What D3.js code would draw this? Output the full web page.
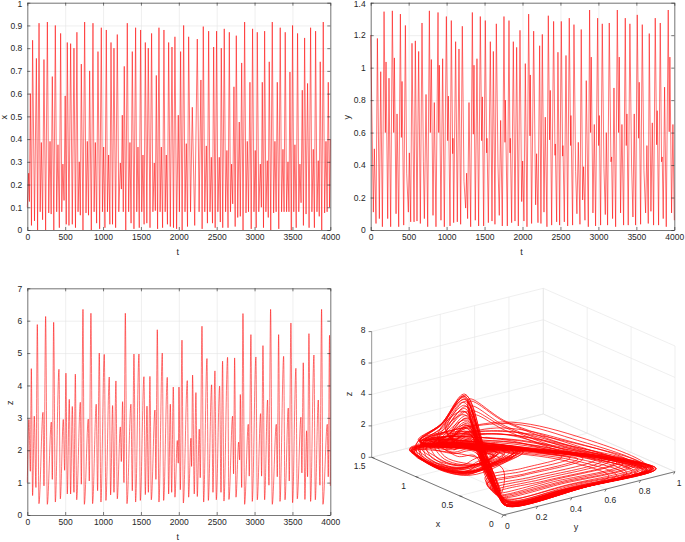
<!DOCTYPE html>
<html>
  <head>
    <meta charset="utf-8">
    <script src="https://d3js.org/d3.v7.min.js"></script>
    <title>Time series and phase portrait</title>
    <style>
      body { margin: 0; background: #fff; }
      text { font-family: "Liberation Sans", sans-serif; fill: #262626; }
      .grid line { stroke: #e4e4e4; stroke-width: 0.6; }
      .grid path { display: none; }
      .axis path, .axis line { stroke: #262626; stroke-width: 0.6; }
      .trace { fill: none; stroke: #ff0000; stroke-linejoin: round; }
    </style>
  </head>
  <body>
    <div id="plot"></div>
    <script>

    // ---- x(t), alternating peaks and troughs
    const xTime = [0,18,28,40,55,70,95,120,136,155,170,185,202,220,242,265,283,300,315,330,350,370,388,405,423,440,455,470,485,500,514,528,550,572,594,616,636,655,670,686,700,713,735,757,775,792,808,823,845,867,882,898,915,933,955,977,992,1008,1025,1043,1058,1074,1090,1105,1125,1144,1166,1188,1208,1228,1242,1254,1267,1280,1300,1320,1338,1355,1370,1386,1408,1430,1445,1461,1478,1496,1511,1527,1542,1558,1578,1597,1620,1641,1658,1676,1690,1703,1720,1738,1753,1769,1786,1804,1820,1835,1850,1866,1888,1910,1930,1949,1971,1993,2008,2024,2044,2064,2082,2099,2115,2130,2155,2178,2210,2244,2268,2292,2308,2323,2343,2363,2378,2394,2412,2429,2445,2460,2480,2499,2516,2534,2548,2561,2580,2600,2618,2635,2650,2667,2682,2697,2712,2728,2744,2759,2778,2798,2812,2830,2848,2869,2887,2904,2920,2939,2956,2974,2992,3009,3022,3036,3056,3076,3090,3102,3118,3133,3150,3168,3181,3194,3214,3234,3252,3269,3285,3300,3320,3339,3357,3375,3390,3405,3423,3441,3454,3467,3485,3502,3518,3533,3550,3568,3584,3599,3614,3630,3645,3661,3680,3700,3720,3740,3757,3775,3790,3806,3824,3841,3854,3867,3887,3907,3925,3943,3958,3973,3990,4000];
    const xValue = [.1,.25,.125,.6,.02,.835,.04,.755,0,.91,.08,.385,.045,.75,0,.915,.075,.39,.07,.675,0,.9,.08,.375,.01,.865,.08,.29,.13,.59,.025,.825,.02,.82,.025,.8,.01,.87,.08,.3,.065,.73,0,.915,.075,.39,.065,.7,0,.91,.08,.385,.03,.785,.005,.89,.08,.365,.01,.88,.08,.33,.025,.825,.025,.8,.01,.86,.08,.295,.18,.505,.08,.72,0,.91,.08,.385,.03,.785,.005,.89,.08,.365,.01,.88,.08,.33,.025,.825,.03,.8,.01,.865,.08,.295,.085,.68,.005,.89,.08,.365,.01,.88,.08,.33,.025,.825,.015,.805,.01,.85,.005,.505,.08,.785,0,.9,.08,.38,.015,.85,.08,.54,.02,.84,.08,.66,.005,.895,.08,.37,.03,.875,.08,.32,.03,.805,.01,.875,.08,.32,.035,.8,.01,.885,.08,.35,.01,.87,.08,.29,.115,.63,.015,.855,.055,.475,.06,.735,0,.915,.075,.39,.08,.65,.005,.885,.08,.35,.01,.87,.08,.29,.1,.65,.01,.875,.08,.305,.055,.74,0,.915,.075,.39,.08,.65,.005,.89,.08,.355,.08,.87,.08,.3,.08,.695,0,.9,.08,.375,.01,.865,.08,.29,.12,.615,.02,.845,.07,.645,.01,.89,.08,.355,.01,.875,.08,.305,.06,.74,0,.915,.075,.39,.08,.65,.1,.4];

    // ---- y(t), top right panel
    const yTime = [0,35,48,70,88,114,132,154,176,193,202,224,241,263,285,303,312,334,347,369,391,404,413,435,457,474,496,509,527,544,571,588,610,632,654,676,694,707,729,751,773,786,799,821,838,860,887,896,904,926,948,970,997,1014,1023,1045,1062,1080,1084,1093,1119,1141,1163,1185,1207,1229,1251,1264,1277,1295,1317,1339,1352,1361,1378,1400,1422,1444,1462,1471,1488,1510,1528,1532,1550,1576,1598,1616,1637,1655,1677,1694,1712,1734,1756,1769,1774,1800,1822,1835,1839,1857,1879,1901,1923,1945,1967,1989,2002,2019,2037,2059,2081,2098,2103,2120,2147,2173,2186,2204,2226,2243,2261,2283,2300,2322,2340,2357,2366,2384,2410,2428,2432,2450,2467,2489,2511,2529,2533,2551,2573,2595,2616,2634,2638,2660,2678,2700,2717,2735,2757,2774,2792,2805,2823,2840,2867,2884,2897,2906,2928,2946,2963,2990,3003,3012,3029,3051,3073,3091,3104,3121,3143,3165,3174,3187,3205,3227,3249,3266,3275,3292,3310,3332,3354,3367,3376,3393,3415,3437,3455,3472,3490,3512,3530,3538,3556,3578,3600,3622,3639,3657,3670,3692,3710,3727,3749,3767,3775,3793,3815,3832,3841,3854,3872,3894,3920,3933,3942,3964,3982,4000];
    const yValue = [1.2,.11,.5,.04,1.18,.07,.975,.02,1.345,.6,1.035,.07,.935,.02,1.35,.6,1.06,.1,.715,.02,1.33,.57,.915,.03,1.26,.35,.11,.475,.05,1.15,.05,1.165,.055,1.1,.04,1.275,.42,.07,.835,.02,1.35,.6,1.05,.09,.785,.02,1.34,.6,1.015,.06,1.055,.02,1.315,.55,.825,.025,1.29,.47,.565,.045,1.16,.05,1.115,.035,1.255,.3,.135,.35,.07,.785,.02,1.34,.59,1.015,.06,1.055,.025,1.315,.55,.82,.025,1.29,.475,.565,.045,1.16,.055,1.1,.035,1.27,.4,.09,.675,.025,1.315,.54,.8,.025,1.29,.475,.565,.045,1.16,.055,1.125,.025,1.23,.175,.425,.055,1.025,.02,1.33,.58,.955,.04,1.225,.155,.47,.045,1.135,.04,1.205,.11,.695,.02,1.32,.555,.86,.03,1.285,.46,.53,.05,1.095,.03,1.285,.455,.52,.05,1.075,.025,1.305,.52,.705,.03,1.265,.36,.1,.54,.035,1.235,.185,.39,.06,.92,.02,1.355,.6,1.065,.105,.65,.025,1.305,.52,.705,.03,1.27,.38,.095,.6,.03,1.275,.42,.45,.07,.875,.02,1.355,.6,1.065,.105,.65,.03,1.305,.52,.715,.03,1.27,.4,.08,.715,.03,1.325,.565,.91,.035,1.265,.365,.105,.52,.04,1.21,.115,.66,.03,1.305,.525,.735,.03,1.275,.42,.45,.07,.88,.02,1.355,.605,1.065,.105,.65,.06];

    // ---- z(t), bottom left panel
    const zTime = [0,22,40,53,70,92,114,132,154,207,220,242,264,317,330,348,370,418,436,475,493,510,528,554,572,594,616,634,652,700,713,735,753,805,818,840,862,910,928,950,972,1016,1038,1082,1100,1126,1144,1170,1188,1228,1241,1258,1276,1294,1316,1368,1386,1408,1430,1474,1492,1540,1558,1580,1598,1619,1637,1685,1698,1716,1738,1782,1800,1848,1866,1888,1906,1927,1949,1980,1993,2002,2020,2042,2060,2112,2130,2160,2169,2182,2204,2226,2244,2270,2283,2306,2328,2372,2390,2433,2451,2477,2495,2539,2557,2578,2596,2644,2662,2710,2723,2737,2755,2790,2803,2812,2830,2847,2869,2917,2930,2952,2970,3018,3036,3080,3093,3111,3133,3172,3190,3212,3234,3287,3300,3318,3336,3384,3402,3445,3458,3480,3502,3546,3564,3612,3625,3643,3665,3687,3700,3718,3740,3784,3802,3841,3863,3885,3903,3960,3973,3990,4000];
    const zValue = [1,2.95,1.35,4.52,.6,3.05,.85,5.88,.35,3.17,.9,6.13,.33,2.87,1.1,5.95,.4,4.5,.5,2.95,1.38,4.38,.65,3.57,.65,3.35,.7,4.35,.47,3.48,.95,6.35,.33,2.96,1.05,6.23,.35,3.42,.75,5,.4,4.96,.45,4.26,.62,3.38,.7,4.14,.5,2.72,1.65,3.5,1,6.23,.35,3.42,.75,4.97,.4,4.97,.45,4.27,.63,3.36,.7,4.28,.47,3.24,1.1,5.72,.4,5,.45,4.25,.65,3.42,.7,3.95,.55,2.3,1.6,3.95,.78,5.4,.37,4.15,.55,2.37,1.5,4.32,.65,3.78,.57,2.65,1.15,5.83,.4,4.83,.45,4.02,.7,4.45,.47,3.98,.7,4.75,.43,4.87,.48,3.05,1.27,4.85,.55,2.25,1.7,3.72,.85,6.22,.33,2.8,1.2,5.57,.42,4.88,.47,3.13,1.2,5.23,.47,3.55,.92,6.35,.33,2.8,1.18,5.57,.42,4.9,.47,3.3,1.05,5.93,.38,4.53,.5,3.02,1.3,4.7,.48,2.6,1.18,5.6,.42,4.94,.47,3.55,.92,6.35,.33,2.8,1.18,5.55,.9];

    // ---- phase portrait waypoints, one row per turn of the attractor
    const phaseX = [
      .03,.03,.05,.35,.85,1.3,.85,.5,.25,.08,
      .28,.28,.3,.6,.92,1.28,1.15,.92,.8,.85,1.1,.8,.5,.26,.1,
      .04,.05,.06,.37,.87,1.28,1.34,1.2,.95,.76,.78,.84,.95,1.1,1.27,.9,.52,.28,.1,
      .06,.06,.06,.42,.92,1.27,.84,.52,.26,.08,
      .02,.04,.06,.1,.3,.7,.55,.3,.09,
      .14,.14,.15,.52,.9,1.3,1.22,1,.84,.88,1.14,.82,.52,.27,.09,
      .04,.06,.07,.38,.82,1.25,.8,.48,.24,.07,
      .2,.2,.21,.56,.9,1.3,.86,.52,.27,.09,
      .03,.05,.06,.36,.86,1.3,1.36,1.22,.93,.74,.76,.86,.98,1.12,1.25,.86,.5,.26,.09,
      .42,.42,.44,.68,.94,1.24,1.08,.88,.78,.82,1.06,.78,.48,.25,.1,
      .02,.03,.04,.34,.88,1.32,.87,.52,.26,.07,
      .38,.38,.4,.66,.93,1.25,.8,.48,.25,.09,
      .03,.04,.05,.11,.32,.68,.53,.28,.1,
      .22,.22,.23,.58,.9,1.3,1.26,1.02,.82,.86,1.12,.84,.52,.27,.09,
      .05,.07,.08,.4,.8,1.2,.78,.46,.22,.06,
      .13,.13,.14,.5,.88,1.22,.76,.44,.22,.08,
      .04,.05,.07,.38,.85,1.26,1.33,1.18,.9,.72,.8,.88,.96,1.08,1.22,.82,.47,.24,.09,
      .5,.5,.52,.72,.95,1.22,1.04,.86,.76,.8,1.02,.76,.46,.24,.1,
      .03,.04,.05,.36,.84,1.28,.83,.49,.24,.08,
      .48,.48,.5,.7,.95,1.2,.72,.42,.22,.08,
      .02,.03,.05,.12,.28,.66,.5,.27,.08,
      .08,.08,.08,.46,.88,1.32,1.3,1.08,.84,.84,1.1,.82,.5,.26,.09,
      .05,.06,.08,.42,.9,1.22,1.3,1.14,.88,.7,.72,.82,.92,1.05,1.2,.8,.44,.22,.07,
      .03,.03,.04,.36,.88,1.3,.86,.51,.26,.08,
      .34,.34,.36,.64,.92,1.26,1.12,.94,.8,.83,1.08,.8,.5,.26,.1,
      .03,.03,.04,.34,.86,1.31,.86,.51,.25,.08,
      .25,.25,.26,.6,.91,1.28,.82,.5,.26,.09,
      .04,.05,.06,.37,.83,1.24,.77,.45,.22,.07,
      .18,.18,.19,.55,.9,1.29,1.2,.98,.82,.87,1.13,.78,.48,.25,.09,
      .03,.04,.06,.36,.88,1.3,1.35,1.2,.97,.78,.75,.83,.94,1.1,1.26,.88,.5,.27,.09,
      .3,.3,.31,.62,.92,1.28,.85,.52,.27,.09,
      .02,.03,.05,.1,.31,.72,.56,.29,.09,
      .6,.6,.62,.78,.96,1.2,1.02,.84,.72,.74,1,.78,.5,.26,.1,
      .04,.05,.07,.39,.8,1.18,.74,.43,.2,.07,
      .55,.55,.57,.74,.96,1.22,.78,.46,.24,.09,
      .03,.04,.05,.35,.87,1.33,1.38,1.24,.96,.79,.77,.85,.97,1.13,1.28,.92,.53,.29,.1,
      .11,.11,.12,.5,.89,1.31,1.25,1.04,.86,.84,1.12,.83,.52,.27,.09,
      .03,.03,.05,.33,.85,1.29,.84,.5,.25,.08,
      .09,.09,.1,.48,.89,1.26,.8,.49,.25,.08,
      .04,.06,.08,.4,.78,1.14,.72,.41,.19,.06,
      .03,.05,.06,.37,.84,1.27,1.32,1.16,.91,.73,.79,.87,.94,1.07,1.23,.84,.48,.25,.08,
      .02,.03,.04,.35,.87,1.3,.85,.51,.26,.08,
      .03,.05,.06,.12,.29,.69,.52,.28,.09,
      .05,.07,.09,.43,.76,1.1,.7,.4,.18,.07,
      .04,.05,.07,.38,.86,1.29,1.35,1.19,.94,.75,.74,.8,.91,1.06,1.24,.87,.49,.26,.08,
      .03,.04,.05,.34,.83,1.26,.82,.48,.23,.07,
      // nested turns of the left lobe
      .6,1.35,1.18,.94,.76,.78,.86,1,1.22,
      1.34,1.16,.92,.75,.79,.87,1.02,1.24,
      1.36,1.2,.95,.77,.8,.85,.99,1.21,
      1.33,1.17,.93,.78,.82,.88,1.03,1.25,
      1.35,1.19,.96,.79,.8,.84,.98,1.2,
      1.32,1.15,.91,.76,.84,.9,1.04,1.26,
      1.3,1.12,.9,.8,.85,.9,1.06,1.24,
      1.37,1.21,.97,.78,.78,.83,.97,1.19,
      1.28,1.1,.92,.84,.88,.94,1.08,1.22,1.3
    ];
    const phaseY = [
      .03,.5,.9,.8,.45,.18,.08,.035,.02,.02,
      .12,.42,.84,.64,.44,.2,.14,.14,.2,.38,.32,.1,.04,.02,.02,
      .04,.45,.87,.78,.43,.17,.155,.13,.114,.175,.34,.53,.5,.39,.28,.1,.04,.02,.02,
      .07,.46,.9,.68,.44,.19,.08,.04,.02,.02,
      .03,.5,.9,.85,.56,.375,.08,.02,.02,
      .1,.44,.88,.66,.46,.19,.14,.12,.19,.42,.33,.09,.04,.02,.02,
      .05,.42,.82,.74,.4,.16,.08,.035,.02,.02,
      .1,.43,.86,.65,.45,.18,.08,.035,.02,.02,
      .035,.48,.89,.79,.44,.175,.15,.125,.11,.17,.33,.5,.48,.36,.26,.09,.04,.02,.02,
      .14,.38,.76,.6,.46,.21,.16,.16,.23,.36,.3,.1,.05,.02,.02,
      .03,.52,.91,.81,.45,.18,.08,.035,.02,.02,
      .13,.39,.78,.61,.46,.2,.09,.05,.02,.02,
      .03,.48,.88,.83,.54,.36,.08,.02,.02,
      .11,.43,.86,.65,.45,.19,.13,.12,.18,.4,.34,.09,.04,.02,.02,
      .06,.4,.79,.71,.38,.15,.07,.035,.02,.02,
      .09,.44,.88,.66,.46,.2,.09,.05,.02,.02,
      .04,.44,.85,.76,.42,.165,.15,.12,.105,.16,.36,.55,.52,.4,.29,.09,.04,.02,.02,
      .16,.38,.7,.58,.47,.22,.17,.17,.25,.34,.3,.1,.05,.02,.02,
      .04,.46,.86,.77,.43,.17,.08,.035,.02,.02,
      .15,.36,.72,.59,.47,.22,.1,.05,.02,.02,
      .03,.47,.86,.8,.52,.35,.08,.02,.02,
      .08,.46,.9,.68,.44,.18,.15,.12,.16,.44,.36,.09,.04,.02,.02,
      .05,.38,.76,.68,.36,.16,.145,.12,.1,.165,.32,.49,.46,.35,.25,.09,.04,.02,.02,
      .05,.47,.91,.7,.45,.18,.08,.035,.02,.02,
      .13,.4,.8,.62,.45,.2,.15,.15,.21,.37,.31,.1,.04,.02,.02,
      .03,.51,.9,.8,.44,.18,.08,.035,.02,.02,
      .11,.42,.83,.63,.45,.19,.08,.04,.02,.02,
      .05,.41,.8,.72,.39,.15,.07,.03,.02,.02,
      .1,.43,.87,.65,.45,.19,.14,.13,.19,.41,.33,.09,.05,.02,.02,
      .04,.47,.88,.78,.43,.175,.155,.13,.115,.18,.35,.54,.51,.38,.27,.1,.04,.02,.02,
      .12,.41,.82,.62,.45,.19,.08,.035,.02,.02,
      .03,.49,.89,.84,.55,.38,.09,.02,.02,
      .2,.42,.66,.56,.47,.23,.18,.2,.3,.36,.31,.1,.04,.02,.02,
      .05,.37,.74,.66,.35,.14,.07,.03,.02,.02,
      .18,.4,.68,.57,.47,.22,.09,.05,.02,.02,
      .035,.49,.9,.8,.45,.18,.16,.135,.12,.18,.34,.52,.5,.39,.28,.1,.04,.02,.02,
      .09,.45,.89,.67,.45,.18,.14,.12,.17,.43,.35,.09,.04,.02,.02,
      .03,.5,.89,.79,.44,.18,.08,.035,.02,.02,
      .08,.45,.89,.67,.45,.19,.08,.04,.02,.02,
      .06,.35,.7,.62,.33,.14,.07,.03,.02,.02,
      .04,.43,.84,.75,.41,.165,.15,.12,.105,.165,.35,.52,.49,.37,.26,.09,.04,.02,.02,
      .03,.52,.91,.81,.45,.18,.08,.035,.02,.02,
      .04,.46,.87,.82,.53,.36,.08,.02,.02,
      .06,.33,.66,.58,.31,.13,.07,.03,.02,.02,
      .04,.46,.87,.77,.43,.17,.155,.125,.11,.17,.31,.47,.45,.34,.25,.09,.04,.02,.02,
      .03,.47,.85,.76,.42,.17,.08,.035,.02,.02,
      // nested turns of the left lobe
      .3,.155,.13,.115,.17,.33,.5,.47,.3,
      .16,.13,.115,.175,.31,.48,.46,.3,
      .155,.135,.11,.165,.34,.53,.49,.31,
      .17,.14,.12,.17,.3,.46,.44,.29,
      .16,.13,.11,.16,.33,.51,.48,.3,
      .18,.15,.13,.18,.29,.44,.42,.28,
      .19,.16,.14,.19,.28,.42,.4,.28,
      .155,.13,.11,.16,.35,.54,.5,.31,
      .2,.17,.16,.2,.27,.39,.37,.27,.2
    ];
    const phaseZ = [
      .45,.35,.35,.6,1,1,3.5,6.3,3.5,1.2,
      .38,.35,.35,.8,1,.95,.5,.5,.55,.7,.8,2.6,4.6,2.7,1,
      .42,.34,.33,.62,.9,.7,.4,.33,.35,.35,.36,.5,.6,.7,.8,2.8,5,3,1.1,
      .42,.35,.34,1.2,1.7,1,2.9,5.2,3,1,
      .45,.35,.34,.6,2.2,3.2,5.8,3.3,1.1,
      .4,.35,.35,.9,1.2,.9,.42,.42,.42,.6,.75,3,5.4,3,1.05,
      .5,.36,.36,.7,1.1,1,2.9,4.9,2.8,1,
      .39,.35,.35,1.6,2.1,1.1,3.5,6.2,3.4,1.15,
      .44,.34,.34,.6,.95,.75,.42,.34,.36,.35,.38,.52,.58,.72,.85,2.5,4.4,2.6,.95,
      .37,.35,.35,.7,.9,1,.62,.6,.65,.75,.9,2.3,3.8,2.3,.95,
      .44,.35,.34,.58,.98,1.05,3.4,6.1,3.4,1.15,
      .38,.35,.35,1.1,1.6,1.15,2.3,4,2.4,.95,
      .45,.36,.35,.62,2,3,5.4,3.1,1,
      .39,.35,.35,1,1.4,1,.38,.38,.4,.62,.72,3.3,6,3.3,1.1,
      .52,.37,.37,.72,1.2,1.1,2.6,4.3,2.5,.95,
      .4,.35,.34,1.8,2.4,1.3,1.9,3,1.8,.85,
      .46,.35,.34,.62,.92,.72,.42,.34,.35,.36,.4,.55,.62,.74,.82,2.2,3.9,2.3,.9,
      .37,.35,.36,.6,.85,1.05,.7,.68,.72,.8,.95,2,3.2,2,.9,
      .46,.35,.35,.64,1.02,1,3.2,5.6,3.2,1.1,
      .37,.35,.36,.9,1.2,1.25,1.7,2.6,1.6,.8,
      .45,.36,.35,.6,1.8,2.8,4.9,2.9,1,
      .41,.35,.34,1.1,1.5,.95,.36,.34,.36,.52,.68,2.4,4.2,2.5,1,
      .5,.38,.38,.75,1.05,.78,.44,.35,.36,.36,.38,.52,.6,.72,.84,2,3.4,2,.85,
      .43,.35,.34,.95,1.3,1,3.4,6,3.3,1.15,
      .38,.35,.35,.85,1.1,.9,.56,.55,.6,.72,.85,2.8,5,2.9,1,
      .44,.34,.34,.6,1,1.02,3.5,6.35,3.5,1.2,
      .39,.35,.35,1.4,1.9,1.1,2.7,4.8,2.8,1,
      .5,.37,.36,.7,1.15,1.05,2.7,4.5,2.6,1,
      .39,.35,.35,1.3,1.7,1.1,.46,.45,.48,.65,.78,2.1,3.5,2.1,.95,
      .45,.35,.34,.61,.93,.72,.41,.33,.35,.35,.37,.5,.6,.7,.82,2.6,4.7,2.8,1,
      .38,.35,.35,.75,1,.95,3.3,5.8,3.2,1.1,
      .45,.35,.34,.6,2.1,3.1,5.6,3.2,1.05,
      .36,.35,.36,.6,.8,1.05,.74,.7,.66,.78,.95,2.5,4.5,2.6,1,
      .54,.38,.38,.74,1.25,1.15,2.4,3.9,2.3,.9,
      .36,.35,.36,.65,.85,1.05,2.1,3.6,2.2,.9,
      .44,.34,.34,.6,.92,.7,.4,.33,.35,.34,.36,.5,.58,.7,.8,2.9,5.2,3.1,1.1,
      .4,.35,.34,1.5,1.9,1.1,.4,.38,.38,.56,.7,3.1,5.6,3.1,1.05,
      .45,.35,.35,.6,1,1,3.3,5.9,3.3,1.15,
      .41,.35,.34,2,2.5,1.2,2.5,4.4,2.5,1,
      .56,.4,.4,.78,1.3,1.2,2.2,3.4,2.1,.85,
      .46,.35,.34,.63,.94,.74,.42,.34,.35,.36,.38,.52,.6,.72,.84,2.4,4.2,2.5,.95,
      .44,.35,.34,.58,1,1.02,3.5,6.2,3.4,1.15,
      .45,.36,.35,.61,1.9,2.9,5.1,3,1,
      .58,.42,.42,.8,1.35,1.25,2,3,1.9,.8,
      .45,.35,.34,.62,.92,.72,.42,.34,.35,.35,.39,.54,.6,.72,.82,2.3,4,2.4,.92,
      .47,.36,.35,.64,1.05,1,3.1,5.3,3,1.1,
      // nested turns of the left lobe
      .7,.4,.34,.34,.35,.38,.5,.6,.72,
      .42,.36,.36,.37,.4,.52,.62,.74,
      .38,.33,.33,.34,.36,.47,.58,.7,
      .44,.38,.39,.4,.42,.54,.64,.76,
      .4,.34,.34,.35,.37,.49,.6,.71,
      .46,.42,.44,.45,.46,.58,.66,.78,
      .5,.48,.5,.5,.52,.62,.7,.8,
      .38,.32,.33,.33,.35,.46,.57,.69,
      .54,.55,.58,.6,.6,.68,.76,.84,.7
    ];

    const xTicks = d3.range(0, 1.01, 0.1),
          yTicks = d3.range(0, 1.41, 0.2),
          zTicks = d3.range(0, 7.01, 1),
          tTicks = d3.range(0, 4001, 500);

    const svg = d3.select("#plot")
      .append("svg")
        .attr("width", 685)
        .attr("height", 542)
        .style("display", "block");

    const num = d => String(+d.toFixed(1));

    // one time series panel
    function panel(left, right, top, bottom, times, values, domain, ticks, label, labelX, curve) {
      const tScale = d3.scaleLinear().domain([0, 4000]).range([left, right]);
      const vScale = d3.scaleLinear().domain(domain).range([bottom, top]);
      const g = svg.append("g");

      // grids
      g.append("g").attr("class", "grid")
        .attr("transform", "translate(0," + bottom + ")")
        .call(d3.axisBottom(tScale).tickValues(tTicks).tickSize(top - bottom).tickFormat(""));
      g.append("g").attr("class", "grid")
        .attr("transform", "translate(" + left + ",0)")
        .call(d3.axisLeft(vScale).tickValues(ticks).tickSize(left - right).tickFormat(""));

      const line = d3.line()
        .x((d, i) => tScale(times[i]))
        .y(d => vScale(d))
        .curve(curve);
      g.append("path").datum(values).attr("class", "trace")
        .attr("stroke-width", 0.55)
        .attr("d", line);

      // box with inward ticks on all four sides
      const tick = 3;
      const bottomAxis = g.append("g").attr("class", "axis")
        .attr("transform", "translate(0," + bottom + ")")
        .call(d3.axisBottom(tScale).tickValues(tTicks).tickFormat(d3.format("d")).tickSizeInner(-tick).tickSizeOuter(0).tickPadding(3));
      bottomAxis.selectAll("text").attr("font-size", 8.5).attr("dy", "0.8em");
      g.append("g").attr("class", "axis")
        .attr("transform", "translate(0," + top + ")")
        .call(d3.axisTop(tScale).tickValues(tTicks).tickFormat("").tickSizeInner(-tick).tickSizeOuter(0));
      const leftAxis = g.append("g").attr("class", "axis")
        .attr("transform", "translate(" + left + ",0)")
        .call(d3.axisLeft(vScale).tickValues(ticks).tickFormat(num).tickSizeInner(-tick).tickSizeOuter(0).tickPadding(5));
      leftAxis.selectAll("text").attr("font-size", 8.5);
      // the top label sits against the page edge, keep it whole
      if (top < 5) leftAxis.selectAll("text").filter(d => d === ticks[ticks.length - 1]).attr("dy", "0.5em");
      g.append("g").attr("class", "axis")
        .attr("transform", "translate(" + right + ",0)")
        .call(d3.axisRight(vScale).tickValues(ticks).tickFormat("").tickSizeInner(-tick).tickSizeOuter(0));

      g.append("text").text("t")
        .attr("x", (left + right) / 2 - 1).attr("y", bottom + 25)
        .attr("text-anchor", "middle").attr("font-size", 9);
      g.append("text").text(label)
        .attr("transform", "translate(" + labelX + "," + ((top + bottom) / 2 + 1) + ") rotate(-90)")
        .attr("text-anchor", "middle").attr("font-size", 9);
    }

    panel(27.3, 330.3, 2.7, 230, xTime, xValue, [0, 1], xTicks, "x", 7, d3.curveLinear);
    panel(370.7, 674.3, 2.7, 230, yTime, yValue, [0, 1.4], yTicks, "y", 350, d3.curveLinear);
    panel(27.3, 330.3, 288.3, 515, zTime, zValue, [0, 7], zTicks, "z", 13, d3.curveMonotoneX);

    // ---- 3D panel, oblique projection taken from the drawn box corners
    const origin = [503.3, 515];
    const xDx = d3.scaleLinear().domain([0, 1.5]).range([0, -131.7]),
          xDy = d3.scaleLinear().domain([0, 1.5]).range([0, -57.7]),
          yDx = d3.scaleLinear().domain([0, 1]).range([0, 171.7]),
          yDy = d3.scaleLinear().domain([0, 1]).range([0, -43.3]),
          zDy = d3.scaleLinear().domain([0, 8]).range([0, -125.7]);
    const proj = (x, y, z) => [
      origin[0] + xDx(x) + yDx(y),
      origin[1] + xDy(x) + yDy(y) + zDy(z)
    ];

    const g3 = svg.append("g");
    const seg = (a, b, color, w) => g3.append("line")
      .attr("x1", a[0]).attr("y1", a[1]).attr("x2", b[0]).attr("y2", b[1])
      .attr("stroke", color).attr("stroke-width", w);

    const gridColor = "#e4e4e4";
    const xTicks3 = [0, 0.5, 1, 1.5],
          yTicks3 = [0, 0.2, 0.4, 0.6, 0.8, 1],
          zTicks3 = [0, 2, 4, 6, 8];

    zTicks3.forEach(z => {
      seg(proj(1.5, 0, z), proj(1.5, 1, z), gridColor, 0.6);
      seg(proj(1.5, 1, z), proj(0, 1, z), gridColor, 0.6);
    });
    yTicks3.forEach(y => {
      seg(proj(0, y, 0), proj(1.5, y, 0), gridColor, 0.6);
      seg(proj(1.5, y, 0), proj(1.5, y, 8), gridColor, 0.6);
    });
    xTicks3.forEach(x => {
      seg(proj(x, 0, 0), proj(x, 1, 0), gridColor, 0.6);
      seg(proj(x, 1, 0), proj(x, 1, 8), gridColor, 0.6);
    });

    // axes and labels
    const axisColor = "#262626";
    seg(proj(0, 0, 0), proj(1.5, 0, 0), axisColor, 0.6);
    seg(proj(0, 0, 0), proj(0, 1, 0), axisColor, 0.6);
    seg(proj(1.5, 0, 0), proj(1.5, 0, 8), "#a8a8a8", 1.2);

    const label3 = (s, p, anchor) => g3.append("text").text(s)
      .attr("x", p[0]).attr("y", p[1]).attr("text-anchor", anchor || "middle")
      .attr("font-size", 8.5);

    xTicks3.forEach(x => {
      const p = proj(x, 0, 0);
      seg(p, [p[0] + 3, p[1] + 0.8], axisColor, 0.6);
      label3(String(x), [p[0] - 12, p[1] + 12]);
    });
    yTicks3.forEach(y => {
      const p = proj(0, y, 0);
      seg(p, [p[0] - 1.5, p[1] + 2.6], axisColor, 0.6);
      label3(String(y), [p[0] + 4, p[1] + 14]);
    });
    zTicks3.forEach(z => {
      const p = proj(1.5, 0, z);
      seg(p, [p[0] - 3, p[1]], axisColor, 0.6);
      label3(String(z), [p[0] - 6, p[1] + 1.5], "end");
    });

    g3.append("text").text("x").attr("x", 438).attr("y", 527).attr("text-anchor", "middle").attr("font-size", 9);
    g3.append("text").text("y").attr("x", 576).attr("y", 530).attr("text-anchor", "middle").attr("font-size", 9);
    g3.append("text").text("z")
      .attr("transform", "translate(352,394) rotate(-90)")
      .attr("text-anchor", "middle").attr("font-size", 9);

    // trajectory
    const phaseLine = d3.line()
      .x((d, i) => proj(phaseX[i], phaseY[i], phaseZ[i])[0])
      .y((d, i) => proj(phaseX[i], phaseY[i], phaseZ[i])[1])
      .curve(d3.curveCatmullRom.alpha(0.5));
    g3.append("path").datum(phaseX).attr("class", "trace")
      .attr("stroke-width", 0.75)
      .attr("d", phaseLine);

    </script>
  </body>
</html>
